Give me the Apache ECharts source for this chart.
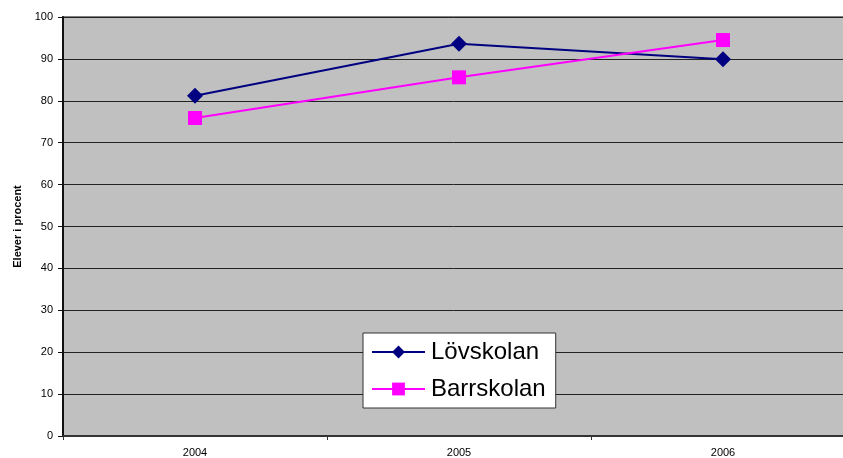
<!DOCTYPE html>
<html><head><meta charset="utf-8">
<script src="https://cdn.jsdelivr.net/npm/echarts@6/dist/echarts.min.js"></script>
<style>html,body{margin:0;padding:0;background:#fff}#c{width:843px;height:458px}</style>
</head><body><div id="c"></div>
<script>
const categories = ['2004', '2005', '2006'];
const lovskolan = [81.2, 93.6, 89.9];
const barrskolan = [75.9, 85.6, 94.5];
const yTicks = { min: 0, max: 100, interval: 10 };
const seriesNames = ['Lövskolan', 'Barrskolan'];

const chart = echarts.init(document.getElementById('c'));
chart.setOption({
  animation: false,
  textStyle: { fontFamily: 'Liberation Sans, Arial, sans-serif' },
  grid: { left: 63, top: 17, width: 792, height: 419, outerBoundsMode: 'none', containLabel: false,
    show: true, backgroundColor: '#c0c0c0', borderColor: '#808080', borderWidth: 2 },
  legend: {
    orient: 'vertical', left: 363, top: 333,
    backgroundColor: '#fff', borderColor: '#333', borderWidth: 1,
    padding: [7, 10, 7, 8], itemGap: 13, itemWidth: 53, itemHeight: 16,
    textStyle: { fontSize: 24, color: '#000', padding: [0, 0, 0, 1] },
    data: seriesNames
  },
  xAxis: {
    type: 'category', data: categories, boundaryGap: true,
    axisLine: { lineStyle: { color: '#333', width: 2 } },
    axisTick: { show: true, length: 4, lineStyle: { color: '#333' } },
    axisLabel: { fontSize: 11, color: '#000', margin: 11 }
  },
  yAxis: {
    type: 'value', min: yTicks.min, max: yTicks.max, interval: yTicks.interval,
    name: 'Elever i procent', nameLocation: 'middle', nameGap: 39, nameRotate: 90,
    nameTextStyle: { fontSize: 11, fontWeight: 'bold', color: '#000' },
    axisLine: { show: true, lineStyle: { color: '#111', width: 2 } },
    axisTick: { show: true, length: 5, lineStyle: { color: '#111' } },
    axisLabel: { fontSize: 11, color: '#000', margin: 10 },
    splitLine: { lineStyle: { color: '#222', width: 1 } }
  },
  series: [
    { name: seriesNames[0], type: 'line', data: lovskolan, symbol: 'diamond', symbolSize: 16,
      lineStyle: { color: '#000080', width: 2 }, itemStyle: { color: '#000080' } },
    { name: seriesNames[1], type: 'line', data: barrskolan, symbol: 'rect', symbolSize: 14,
      lineStyle: { color: '#ff00ff', width: 2 }, itemStyle: { color: '#ff00ff' } }
  ]
});
</script></body></html>
